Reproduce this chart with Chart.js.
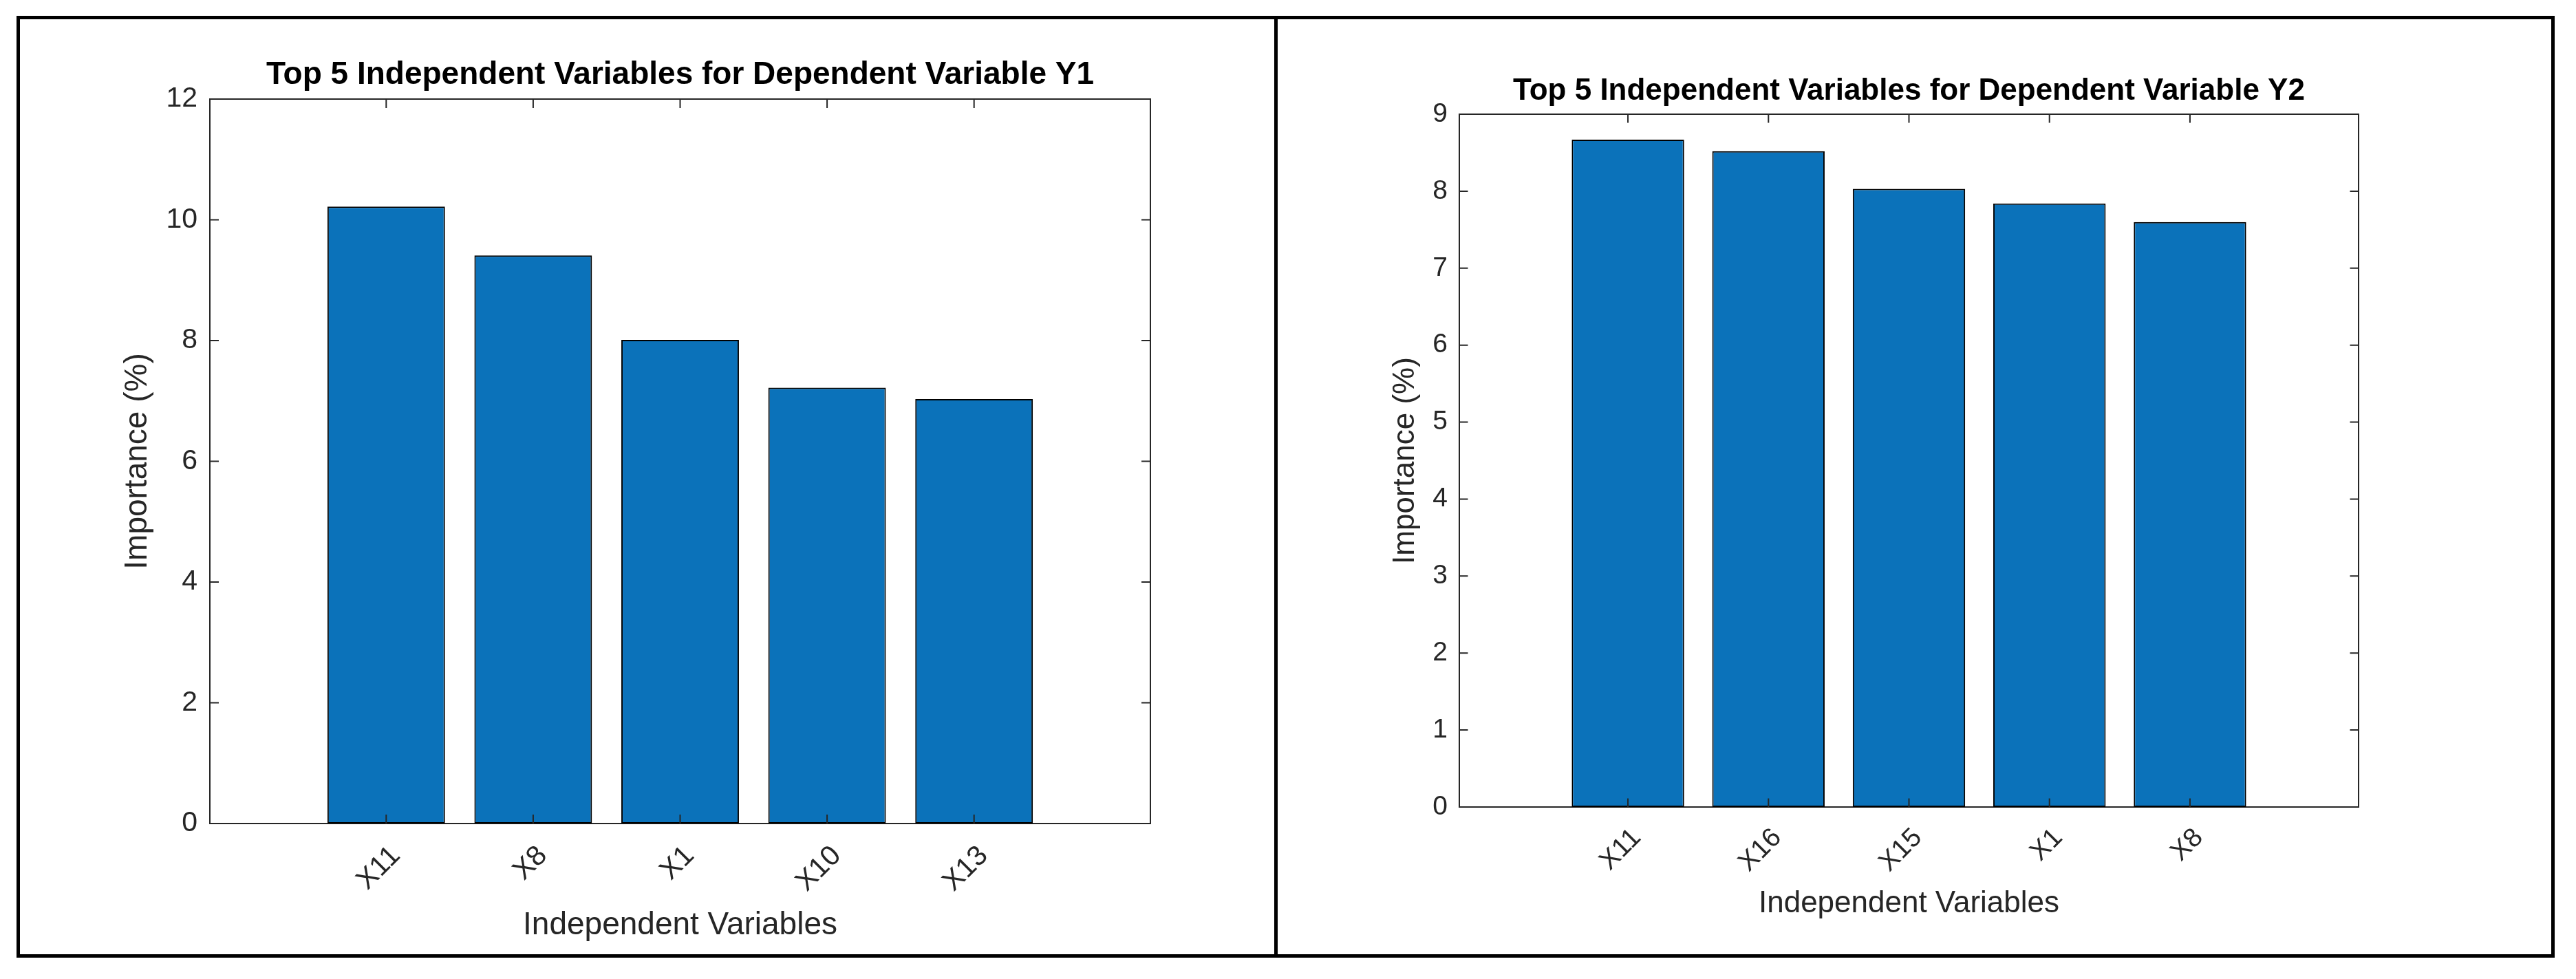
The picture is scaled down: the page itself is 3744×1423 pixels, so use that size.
<!DOCTYPE html>
<html>
<head>
<meta charset="utf-8">
<script src="https://cdn.jsdelivr.net/npm/chart.js@4.4.1/dist/chart.umd.min.js"></script>
<style>
  html, body { margin: 0; padding: 0; background: #fff; }
  body { width: 3744px; height: 1423px; position: relative; overflow: hidden; }
  canvas { position: absolute; top: 0; }
  #frame { position: absolute; left: 24px; top: 23px; width: 3689px; height: 1369px;
           border: 5px solid #000; box-sizing: border-box; }
  #divider { position: absolute; left: 1852px; top: 23px; width: 5px; height: 1369px; background: #000; }
</style>
</head>
<body>
<canvas id="chart-y1" width="1854" height="1423" style="left:0"></canvas>
<canvas id="chart-y2" width="1890" height="1423" style="left:1854px"></canvas>
<div id="frame"></div>
<div id="divider"></div>
<script>
// data
const y1Labels = ['X11', 'X8', 'X1', 'X10', 'X13'];
const y1Values = [10.22, 9.41, 8.01, 7.22, 7.03];
const y1Ticks = [0, 2, 4, 6, 8, 10, 12];

const y2Labels = ['X11', 'X16', 'X15', 'X1', 'X8'];
const y2Values = [8.67, 8.52, 8.03, 7.84, 7.60];
const y2Ticks = [0, 1, 2, 3, 4, 5, 6, 7, 8, 9];

const barColor = '#0b72ba';
const axisColor = '#262626';
const fontFamily = "'Liberation Sans', Arial, Helvetica, sans-serif";

// matlab style ticks pointing into the box
const innerTicks = {
  id: 'innerTicks',
  afterDraw(chart, args, opts) {
    const { ctx, chartArea: a } = chart;
    const x = chart.scales.x, y = chart.scales.y;
    ctx.save();
    ctx.strokeStyle = axisColor;
    ctx.lineWidth = 2;
    ctx.beginPath();
    x.ticks.forEach(t => {
      const px = x.getPixelForValue(t.value);
      ctx.moveTo(px, a.bottom); ctx.lineTo(px, a.bottom - opts.len);
      ctx.moveTo(px, a.top); ctx.lineTo(px, a.top + opts.len);
    });
    y.ticks.forEach(t => {
      const py = y.getPixelForValue(t.value);
      ctx.moveTo(a.left, py); ctx.lineTo(a.left + opts.len, py);
      ctx.moveTo(a.right, py); ctx.lineTo(a.right - opts.len, py);
    });
    ctx.stroke();
    ctx.restore();
  }
};

function drawPanel(id, title, labels, values, yTicks, g) {
  const xTickValues = labels.map((_, i) => i + 1);
  const xMin = -0.2, xMax = labels.length + 1.2;
  const yMax = yTicks[yTicks.length - 1];
  const border = { display: true, color: axisColor, width: 2 };

  return new Chart(document.getElementById(id), {
    type: 'bar',
    data: {
      datasets: [{
        data: values.map((v, i) => ({ x: i + 1, y: v })),
        backgroundColor: barColor,
        borderColor: '#000',
        borderWidth: 2,
        borderSkipped: false,
        barPercentage: 0.8,
        categoryPercentage: 1.0
      }]
    },
    options: {
      responsive: false,
      animation: false,
      devicePixelRatio: 1,
      layout: { padding: 0 },
      plugins: {
        legend: { display: false },
        tooltip: { enabled: false },
        innerTicks: { len: g.tickLen }
      },
      scales: {
        x: {
          type: 'linear', position: 'bottom', min: xMin, max: xMax, offset: false, z: 1,
          afterBuildTicks: s => { s.ticks = xTickValues.map(v => ({ value: v })); },
          afterFit: s => { s.height = g.bottomH; },
          grid: { display: false, drawTicks: false, offset: false },
          border: border,
          ticks: {
            autoSkip: false, minRotation: 45, maxRotation: 45,
            padding: g.xTickPad, labelOffset: g.labelOffset,
            color: axisColor, font: { family: fontFamily, size: g.tickFont },
            callback: v => labels[v - 1]
          },
          title: {
            display: true, text: 'Independent Variables', color: axisColor,
            font: { family: fontFamily, size: g.labelFont },
            padding: { top: 0, bottom: g.xTitlePad }
          }
        },
        x2: {
          type: 'linear', axis: 'x', position: 'top', min: xMin, max: xMax, offset: false, z: 1,
          afterFit: s => { s.height = g.topH; },
          grid: { display: false, drawTicks: false },
          border: border,
          ticks: { display: false },
          title: {
            display: true, text: title, color: '#000',
            font: { family: fontFamily, size: g.titleFont, weight: 'bold' },
            padding: { top: g.titlePad, bottom: 0 }
          }
        },
        y: {
          type: 'linear', position: 'left', min: 0, max: yMax, z: 1,
          afterBuildTicks: s => { s.ticks = yTicks.map(v => ({ value: v })); },
          afterFit: s => { s.width = g.axisW; },
          grid: { display: false, drawTicks: false },
          border: border,
          ticks: {
            padding: g.yTickPad, color: axisColor,
            font: { family: fontFamily, size: g.tickFont }
          },
          title: {
            display: true, text: 'Importance (%)', color: axisColor,
            font: { family: fontFamily, size: g.labelFont },
            padding: { top: g.yTitlePad, bottom: 0 }
          }
        },
        y2: {
          type: 'linear', axis: 'y', position: 'right', min: 0, max: yMax, z: 1,
          afterFit: s => { s.width = g.rightW; },
          grid: { display: false, drawTicks: false },
          border: border,
          ticks: { display: false }
        }
      }
    },
    plugins: [innerTicks]
  });
}

drawPanel('chart-y1', 'Top 5 Independent Variables for Dependent Variable Y1',
  y1Labels, y1Values, y1Ticks, {
    axisW: 305, topH: 144, rightW: 182, bottomH: 226,
    tickFont: 41, labelFont: 46, titleFont: 46,
    titlePad: 82, yTitlePad: 173, xTitlePad: 50,
    xTickPad: 23, yTickPad: 18, labelOffset: 14, tickLen: 13
  });

drawPanel('chart-y2', 'Top 5 Independent Variables for Dependent Variable Y2',
  y2Labels, y2Values, y2Ticks, {
    axisW: 267, topH: 166, rightW: 316, bottomH: 250,
    tickFont: 39, labelFont: 44, titleFont: 44,
    titlePad: 106, yTitlePad: 162, xTitlePad: 83,
    xTickPad: 22, yTickPad: 17, labelOffset: 13, tickLen: 12.5
  });
</script>
</body>
</html>
